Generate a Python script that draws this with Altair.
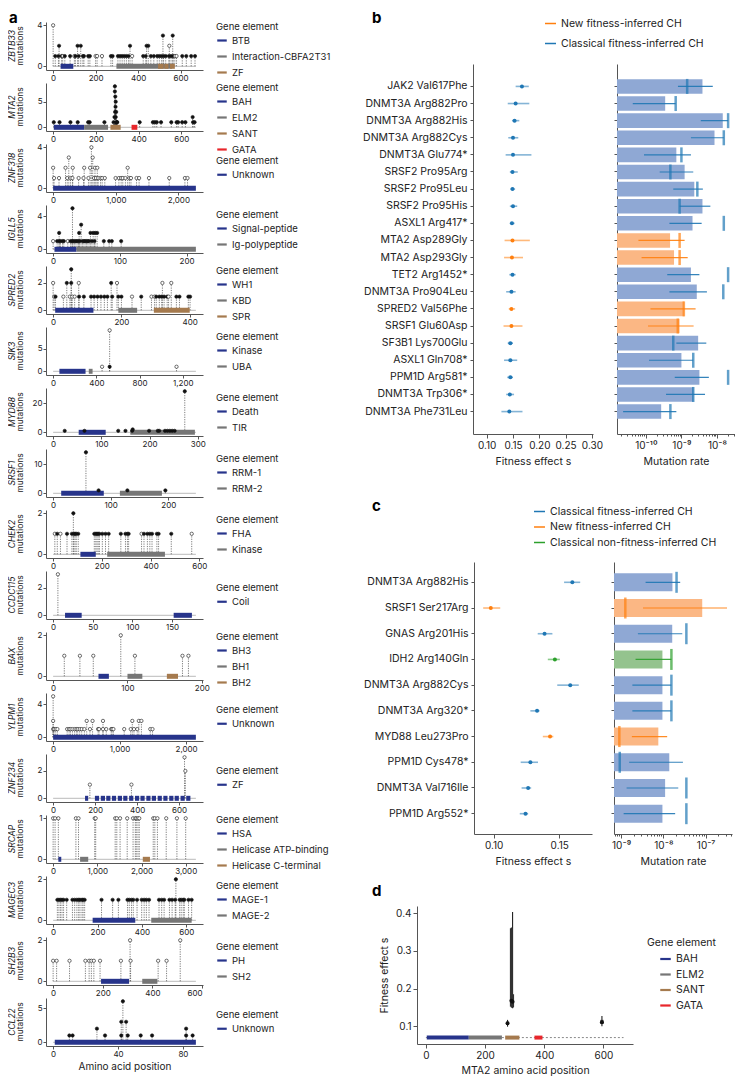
import altair as alt
import pandas as pd

FONT = "Inter"
NAVY, GREY, BROWN, RED = "#27348b", "#767676", "#a57a4e", "#e8262b"
ELEM_COLORS = [NAVY, GREY, BROWN, RED]
BLUE, ORANGE, GREEN = "#1f77b4", "#ff7f0e", "#2ca02c"
PALE_BLUE, PALE_ORANGE, PALE_GREEN = "#8fa8d4", "#fbb784", "#94c38e"

# ---------------- panel a : lollipop data (pos, mutations, filled) ----------------
ZBTB33_LEN = 672
ZBTB33_XT = [0, 100, 200, 300, 400, 500, 600, 700]
ZBTB33_YT = [0, 2, 4]
ZBTB33_MUT = [(0, 4, 0), (10, 1, 1), (25, 1, 1), (28, 2, 1), (40, 1, 1), (45, 1, 0), (55, 1, 1), (80, 1, 1),
              (100, 1, 0), (105, 1, 1), (115, 2, 1), (120, 1, 1), (130, 2, 1), (140, 1, 1), (145, 1, 1),
              (165, 1, 1), (173, 1, 1), (200, 1, 0), (207, 1, 0), (230, 1, 0), (272, 1, 1), (280, 1, 1),
              (305, 1, 1), (315, 1, 1), (325, 1, 1), (335, 1, 1), (345, 1, 1), (355, 1, 1), (362, 2, 1),
              (372, 1, 0), (424, 1, 1), (436, 1, 1), (440, 2, 1), (448, 2, 1), (460, 1, 1), (474, 1, 1),
              (490, 1, 1), (500, 1, 1), (510, 1, 1), (517, 3, 1), (520, 1, 1), (530, 1, 1), (545, 1, 1),
              (547, 2, 0), (555, 1, 1), (563, 3, 1), (565, 1, 1), (573, 1, 0), (581, 1, 0), (608, 1, 1),
              (627, 1, 1), (650, 1, 1), (668, 1, 1)]
ZBTB33_DOM = [("BTB", 35, 95), ("Interaction-CBFA2T31", 298, 560), ("ZF", 494, 520), ("ZF", 524, 543),
              ("ZF", 550, 573)]

MTA2_LEN = 668
MTA2_XT = [0, 100, 200, 300, 400, 500, 600, 700]
MTA2_YT = [0, 5]
MTA2_MUT = [(3, 1, 1), (30, 1, 1), (81, 1, 1), (115, 1, 1), (164, 1, 1), (171, 1, 1), (240, 1, 1), (283, 1, 1),
            (287, 2, 1), (289, 8, 1), (289, 7, 1), (290, 3, 1), (291, 6, 1), (292, 4, 1), (293, 5, 1),
            (293, 2, 1), (295, 3, 1), (296, 1, 1), (298, 1, 1), (300, 1, 1), (405, 1, 1), (467, 1, 1),
            (476, 1, 1), (485, 1, 1), (505, 1, 1), (553, 1, 1), (578, 1, 1), (585, 1, 1), (604, 1, 1),
            (619, 1, 1), (653, 2, 1), (655, 1, 1), (662, 1, 1)]
MTA2_DOM = [("BAH", 3, 145), ("ELM2", 145, 257), ("SANT", 268, 316), ("GATA", 367, 394)]

ZNF318_LEN = 2279
ZNF318_XT = [0, 500, 1000, 1500, 2000]
ZNF318_YT = [0, 2, 4]
ZNF318_MUT = [(0, 2, 0), (15, 1, 0), (94, 1, 0), (198, 2, 0), (225, 1, 0), (250, 3, 0), (277, 1, 0), (308, 1, 0),
              (313, 2, 0), (407, 1, 0), (485, 1, 0), (496, 2, 0), (564, 1, 0), (590, 2, 0), (611, 4, 0),
              (632, 3, 0), (653, 1, 0), (668, 2, 0), (684, 1, 0), (705, 2, 0), (720, 1, 0), (757, 1, 0),
              (783, 1, 0), (825, 1, 0), (997, 1, 0), (1050, 1, 0), (1086, 1, 0), (1112, 1, 0), (1154, 1, 0),
              (1190, 2, 0), (1217, 1, 0), (1243, 1, 0), (1332, 1, 0), (1373, 1, 0), (1530, 1, 0),
              (1854, 1, 0), (2104, 1, 0), (2146, 1, 0)]
ZNF318_DOM = [("Unknown", 0, 2279)]

IGLL5_LEN = 214
IGLL5_XT = [0, 50, 100, 150, 200]
IGLL5_YT = [0, 2, 4]
IGLL5_MUT = [(0, 1, 0), (6, 1, 1), (9, 2, 1), (9, 1, 1), (11, 1, 1), (14, 1, 1), (16, 1, 1), (22, 1, 0),
             (26, 1, 1), (28, 1, 1), (29, 5, 1), (30, 1, 1), (32, 1, 1), (34, 1, 1), (36, 1, 1), (38, 1, 1),
             (39, 2, 1), (40, 1, 1), (42, 3, 1), (44, 1, 1), (46, 1, 1), (48, 1, 1), (50, 1, 1), (52, 1, 1),
             (54, 1, 1), (56, 2, 1), (58, 1, 1), (60, 2, 1), (62, 1, 1), (63, 2, 1), (66, 2, 1), (76, 1, 1),
             (84, 1, 1), (88, 1, 1), (102, 1, 1)]
IGLL5_DOM = [("Signal-peptide", 2, 35), ("Ig-polypeptide", 35, 214)]

SPRED2_LEN = 418
SPRED2_XT = [0, 100, 200, 300, 400]
SPRED2_YT = [0, 2]
SPRED2_MUT = [(0, 2, 0), (3, 1, 0), (7, 1, 1), (30, 1, 0), (40, 2, 1), (49, 1, 0), (53, 3, 1), (53, 2, 1),
              (56, 1, 0), (63, 1, 0), (75, 2, 0), (76, 1, 1), (90, 1, 1), (111, 1, 1), (120, 1, 1), (130, 1, 1),
              (140, 1, 1), (150, 1, 1), (159, 1, 1), (170, 2, 1), (173, 1, 1), (187, 2, 0), (191, 1, 1),
              (200, 1, 1), (231, 1, 0), (258, 1, 1), (288, 1, 0), (297, 1, 0), (302, 1, 1), (311, 1, 1),
              (318, 1, 1), (320, 2, 0), (325, 1, 1), (334, 1, 1), (338, 1, 0), (346, 2, 0), (361, 1, 1),
              (370, 1, 1), (396, 1, 1), (401, 1, 1)]
SPRED2_DOM = [("WH1", 6, 118), ("KBD", 191, 246), ("SPR", 295, 400)]

SIK3_LEN = 1321
SIK3_XT = [0, 200, 400, 600, 800, 1000, 1200]
SIK3_YT = [0, 5]
SIK3_MUT = [(453, 1, 0), (523, 9, 0), (523, 1, 1), (1142, 1, 0)]
SIK3_DOM = [("Kinase", 58, 300), ("UBA", 330, 365)]

MYD88_LEN = 296
MYD88_XT = [0, 50, 100, 150, 200, 250, 300]
MYD88_YT = [0, 20]
MYD88_MUT = [(24, 1, 1), (65, 1, 1), (135, 1, 1), (150, 1, 1), (164, 1, 1), (165, 2, 1), (199, 1, 1),
             (217, 1, 1), (220, 1, 1), (232, 1, 1), (237, 1, 1), (242, 1, 1), (247, 1, 1), (252, 1, 1),
             (273, 28, 1)]
MYD88_DOM = [("Death", 53, 109), ("TIR", 160, 294)]

SRSF1_LEN = 248
SRSF1_XT = [0, 50, 100, 150, 200, 250]
SRSF1_YT = [0, 10]
SRSF1_MUT = [(57, 14, 1), (79, 1, 1), (129, 1, 1), (195, 1, 1)]
SRSF1_DOM = [("RRM-1", 14, 88), ("RRM-2", 116, 189)]

CHEK2_LEN = 586
CHEK2_XT = [0, 100, 200, 300, 400, 500, 600]
CHEK2_YT = [0, 1, 2]
CHEK2_MUT = [(7, 1, 0), (17, 1, 1), (30, 1, 0), (57, 1, 1), (77, 1, 1), (83, 2, 1), (85, 1, 1), (90, 1, 1),
             (95, 1, 1), (103, 1, 1), (169, 1, 1), (175, 1, 1), (180, 1, 1), (185, 1, 1), (190, 1, 1),
             (202, 1, 1), (215, 1, 1), (228, 1, 1), (278, 1, 1), (297, 1, 1), (305, 1, 1), (310, 1, 1),
             (363, 1, 0), (373, 1, 1), (387, 1, 1), (397, 1, 1), (406, 1, 1), (426, 1, 1), (433, 1, 1),
             (485, 1, 1), (569, 1, 0)]
CHEK2_DOM = [("FHA", 112, 175), ("Kinase", 222, 459)]

CCDC115_LEN = 180
CCDC115_XT = [0, 25, 50, 75, 100, 125, 150, 175]
CCDC115_YT = [0, 2]
CCDC115_MUT = [(6, 3, 0)]
CCDC115_DOM = [("Coil", 15, 36), ("Coil", 152, 175)]

BAX_LEN = 192
BAX_XT = [0, 50, 100, 150, 200]
BAX_YT = [0, 1, 2]
BAX_MUT = [(15, 1, 0), (36, 1, 0), (54, 1, 0), (91, 2, 0), (110, 1, 0), (174, 1, 0), (182, 1, 0)]
BAX_DOM = [("BH3", 61, 75), ("BH1", 100, 120), ("BH2", 153, 168)]

YLPM1_LEN = 2147
YLPM1_XT = [0, 500, 1000, 1500, 2000]
YLPM1_YT = [0, 2, 4]
YLPM1_MUT = [(0, 5, 0), (0, 2, 0), (0, 1, 0), (15, 1, 0), (39, 1, 0), (64, 1, 0), (211, 1, 0), (240, 1, 0),
             (260, 1, 0), (290, 1, 0), (323, 1, 0), (350, 1, 0), (370, 1, 0), (400, 1, 0), (430, 1, 0),
             (470, 1, 0), (505, 2, 0), (554, 1, 0), (593, 2, 0), (676, 1, 0), (691, 1, 0), (750, 2, 0),
             (750, 1, 0), (799, 1, 0), (873, 1, 0), (887, 1, 0), (907, 1, 0), (1069, 1, 0), (1167, 1, 0),
             (1191, 2, 0), (1216, 1, 0), (1265, 1, 0), (1289, 2, 0), (1328, 2, 0), (1461, 1, 0), (1495, 1, 0)]
YLPM1_DOM = [("Unknown", 0, 2147)]

ZNF234_LEN = 680
ZNF234_XT = [0, 100, 200, 300, 400, 500, 600, 700]
ZNF234_YT = [0, 2]
ZNF234_MUT = [(175, 1, 0), (373, 1, 0), (626, 3, 0), (630, 2, 0)]
ZNF234_DOM = [("ZF", 152, 167), ("ZF", 199, 219), ("ZF", 227, 247), ("ZF", 253, 273), ("ZF", 280, 300),
              ("ZF", 308, 328), ("ZF", 334, 354), ("ZF", 362, 382), ("ZF", 390, 410), ("ZF", 416, 436),
              ("ZF", 444, 464), ("ZF", 470, 490), ("ZF", 498, 518), ("ZF", 525, 545), ("ZF", 553, 573),
              ("ZF", 579, 599), ("ZF", 607, 627), ("ZF", 634, 654)]

SRCAP_LEN = 3230
SRCAP_XT = [0, 500, 1000, 1500, 2000, 2500, 3000]
SRCAP_YT = [0, 0.5, 1]
SRCAP_POS = [0, 44, 118, 515, 574, 941, 963, 1404, 1441, 1515, 1676, 1809, 1860, 1882, 1919, 1949, 2265,
             2301, 2360, 2559, 2801, 3000]
SRCAP_MUT = [(p, 1, 0) for p in SRCAP_POS]
SRCAP_DOM = [("HSA", 118, 184), ("Helicase ATP-binding", 610, 794), ("Helicase C-terminal", 2029, 2191)]

MAGEC3_LEN = 643
MAGEC3_XT = [0, 100, 200, 300, 400, 500, 600]
MAGEC3_YT = [0, 1, 2]
MAGEC3_POS = [19, 26, 33, 40, 47, 61, 87, 97, 107, 115, 121, 130, 135, 142, 218, 268, 294, 335, 343, 353,
              361, 378, 399, 410, 420, 432, 477, 489, 500, 524, 536, 550, 570, 577, 586, 591, 610, 624]
MAGEC3_MUT = [(p, 1, 1) for p in MAGEC3_POS] + [(553, 2, 1)]
MAGEC3_DOM = [("MAGE-1", 178, 370), ("MAGE-2", 442, 624)]

SH2B3_LEN = 575
SH2B3_XT = [0, 100, 200, 300, 400, 500, 600]
SH2B3_YT = [0, 1, 2]
SH2B3_MUT = [(0, 1, 0), (14, 1, 0), (66, 1, 0), (130, 1, 0), (145, 1, 0), (154, 1, 0), (164, 1, 0),
             (189, 1, 0), (273, 1, 0), (310, 2, 0), (312, 1, 0), (423, 1, 0), (457, 1, 0), (512, 2, 0)]
SH2B3_DOM = [("PH", 193, 306), ("SH2", 359, 420)]

CCL22_LEN = 88
CCL22_XT = [0, 20, 40, 60, 80]
CCL22_YT = [0, 2.5, 5]
CCL22_MUT = [(10, 1, 1), (12, 1, 1), (27, 2, 1), (32, 1, 1), (42, 3, 1), (42, 1, 1), (43, 6, 1), (45, 3, 1),
             (46, 1, 1), (54, 1, 1), (61, 1, 1), (82, 2, 1), (82, 1, 1), (86, 1, 1)]
CCL22_DOM = [("Unknown", 1, 88)]

GENES = [
    ("ZBTB33", ZBTB33_LEN, ZBTB33_MUT, ZBTB33_DOM, ZBTB33_XT, ZBTB33_YT),
    ("MTA2", MTA2_LEN, MTA2_MUT, MTA2_DOM, MTA2_XT, MTA2_YT),
    ("ZNF318", ZNF318_LEN, ZNF318_MUT, ZNF318_DOM, ZNF318_XT, ZNF318_YT),
    ("IGLL5", IGLL5_LEN, IGLL5_MUT, IGLL5_DOM, IGLL5_XT, IGLL5_YT),
    ("SPRED2", SPRED2_LEN, SPRED2_MUT, SPRED2_DOM, SPRED2_XT, SPRED2_YT),
    ("SIK3", SIK3_LEN, SIK3_MUT, SIK3_DOM, SIK3_XT, SIK3_YT),
    ("MYD88", MYD88_LEN, MYD88_MUT, MYD88_DOM, MYD88_XT, MYD88_YT),
    ("SRSF1", SRSF1_LEN, SRSF1_MUT, SRSF1_DOM, SRSF1_XT, SRSF1_YT),
    ("CHEK2", CHEK2_LEN, CHEK2_MUT, CHEK2_DOM, CHEK2_XT, CHEK2_YT),
    ("CCDC115", CCDC115_LEN, CCDC115_MUT, CCDC115_DOM, CCDC115_XT, CCDC115_YT),
    ("BAX", BAX_LEN, BAX_MUT, BAX_DOM, BAX_XT, BAX_YT),
    ("YLPM1", YLPM1_LEN, YLPM1_MUT, YLPM1_DOM, YLPM1_XT, YLPM1_YT),
    ("ZNF234", ZNF234_LEN, ZNF234_MUT, ZNF234_DOM, ZNF234_XT, ZNF234_YT),
    ("SRCAP", SRCAP_LEN, SRCAP_MUT, SRCAP_DOM, SRCAP_XT, SRCAP_YT),
    ("MAGEC3", MAGEC3_LEN, MAGEC3_MUT, MAGEC3_DOM, MAGEC3_XT, MAGEC3_YT),
    ("SH2B3", SH2B3_LEN, SH2B3_MUT, SH2B3_DOM, SH2B3_XT, SH2B3_YT),
    ("CCL22", CCL22_LEN, CCL22_MUT, CCL22_DOM, CCL22_XT, CCL22_YT),
]

# ---------------- panel b ----------------
NEW, CLASSIC, NONFIT = "New fitness-inferred CH", "Classical fitness-inferred CH", "Classical non-fitness-inferred CH"
B_VARIANTS = ["JAK2 Val617Phe", "DNMT3A Arg882Pro", "DNMT3A Arg882His", "DNMT3A Arg882Cys", "DNMT3A Glu774*",
              "SRSF2 Pro95Arg", "SRSF2 Pro95Leu", "SRSF2 Pro95His", "ASXL1 Arg417*", "MTA2 Asp289Gly",
              "MTA2 Asp293Gly", "TET2 Arg1452*", "DNMT3A Pro904Leu", "SPRED2 Val56Phe", "SRSF1 Glu60Asp",
              "SF3B1 Lys700Glu", "ASXL1 Gln708*", "PPM1D Arg581*", "DNMT3A Trp306*", "DNMT3A Phe731Leu"]
B_GROUP = [CLASSIC] * 9 + [NEW, NEW, CLASSIC, CLASSIC, NEW, NEW, CLASSIC, CLASSIC, CLASSIC, CLASSIC, CLASSIC]
B_S = [0.167, 0.155, 0.153, 0.150, 0.150, 0.149, 0.149, 0.150, 0.148, 0.149, 0.148, 0.149, 0.147, 0.147,
       0.147, 0.145, 0.145, 0.145, 0.144, 0.143]
B_S_LO = [0.155, 0.140, 0.148, 0.141, 0.136, 0.144, 0.145, 0.144, 0.144, 0.134, 0.133, 0.143, 0.137, 0.142,
          0.132, 0.140, 0.133, 0.139, 0.137, 0.128]
B_S_HI = [0.180, 0.181, 0.162, 0.160, 0.185, 0.159, 0.154, 0.158, 0.153, 0.182, 0.169, 0.155, 0.155, 0.154,
          0.168, 0.150, 0.158, 0.150, 0.152, 0.168]
B_MU = [3.9e-9, 3.5e-10, 1.45e-8, 8.5e-9, 7.2e-10, 1.23e-9, 2.3e-9, 3.9e-9, 2.05e-9, 4.8e-10, 6.2e-10,
        1.85e-9, 2.7e-9, 1.17e-9, 8.9e-10, 2.95e-9, 1.0e-9, 3.2e-9, 2.2e-9, 2.7e-10]
B_MU_LO = [8.0e-10, 4.3e-11, 3.5e-9, 1.85e-9, 8.9e-11, 2.45e-10, 5.9e-10, 8.9e-10, 4.6e-10, 6.2e-11, 7.6e-11,
           4.0e-10, 4.6e-10, 1.35e-10, 1.15e-10, 7.2e-10, 1.23e-10, 6.5e-10, 3.7e-10, 2.3e-11]
B_MU_HI = [7.6e-9, 6.9e-10, 2.05e-8, 1.55e-8, 1.85e-9, 2.15e-9, 4.0e-9, 6.5e-9, 3.7e-9, 1.23e-9, 1.5e-9,
           3.2e-9, 5.2e-9, 2.5e-9, 2.2e-9, 5.0e-9, 2.15e-9, 5.9e-9, 4.6e-9, 7.2e-10]
B_MU_OBS = [1.45e-9, 6.9e-10, 2.05e-8, 1.55e-8, 1.0e-9, 4.9e-10, 2.8e-9, 8.9e-10, 1.55e-8, 8.9e-10, 8.9e-10,
            2.05e-8, 1.5e-8, 1.17e-9, 7.9e-10, 5.9e-10, 2.15e-9, 2.05e-8, 2.15e-9, 4.9e-10]

# ---------------- panel c ----------------
C_VARIANTS = ["DNMT3A Arg882His", "SRSF1 Ser217Arg", "GNAS Arg201His", "IDH2 Arg140Gln", "DNMT3A Arg882Cys",
              "DNMT3A Arg320*", "MYD88 Leu273Pro", "PPM1D Cys478*", "DNMT3A Val716Ile", "PPM1D Arg552*"]
C_GROUP = [CLASSIC, NEW, CLASSIC, NONFIT, CLASSIC, CLASSIC, NEW, CLASSIC, CLASSIC, CLASSIC]
C_S = [0.160, 0.0978, 0.1388, 0.1467, 0.1584, 0.1331, 0.1430, 0.1280, 0.1263, 0.1243]
C_S_LO = [0.1537, 0.0920, 0.1336, 0.1413, 0.1485, 0.1280, 0.1375, 0.1206, 0.1213, 0.1199]
C_S_HI = [0.1660, 0.1050, 0.1448, 0.1505, 0.1649, 0.1350, 0.1455, 0.1338, 0.1286, 0.1263]
C_MU = [1.64e-8, 8.3e-8, 1.62e-8, 9.5e-9, 9.5e-9, 9.5e-9, 7.6e-9, 1.38e-8, 1.1e-8, 9.5e-9]
C_MU_LO = [3.8e-9, 3.3e-9, 2.5e-9, 2.2e-9, 1.85e-9, 1.85e-9, 1.8e-9, 1.55e-9, 1.35e-9, 1.15e-9]
C_MU_HI = [2.5e-8, 3.2e-7, 2.8e-8, 1.55e-8, 1.55e-8, 1.55e-8, 1.23e-8, 2.9e-8, 2.25e-8, 1.9e-8]
C_MU_OBS = [2.05e-8, 1.26e-9, 3.5e-8, 1.55e-8, 1.55e-8, 1.55e-8, 9.1e-10, 9.3e-10, 3.5e-8, 3.5e-8]

# ---------------- panel d ----------------
D_POS = [276, 289, 293, 595]
D_S = [0.108, 0.168, 0.165, 0.111]
D_LO = [0.099, 0.150, 0.148, 0.100]
D_HI = [0.117, 0.362, 0.403, 0.127]
D_INNER_LO = [0.104, 0.152, 0.150, 0.106]
D_INNER_HI = [0.112, 0.360, 0.185, 0.117]
D_TRACK = 0.07

# ---------------- layout (pixels) ----------------
W_A, H_A, GAP_A = 157, 48, 13
LEFT_ANCHOR = 150      # invisible extent right of the lollipop plots (covers legends)
RIGHT_ANCHOR = 55      # invisible extent left of the right column origin (covers labels)
COL_GAP = 9
TOP_RIGHT = 39         # b plot top below first lollipop plot top
B_H, C_H, D_H = 370, 272, 138
B_ROW_H, C_ROW_H = 495, 344


def letter_mark(t, dx, dy):
    return alt.Chart(pd.DataFrame({"t": [t]})).mark_text(
        fontSize=15, fontWeight="bold", align="left", baseline="top", font=FONT).encode(
        text="t:N", x=alt.value(dx), y=alt.value(dy))


def anchor(x1, x2, y=0):
    return alt.Chart(pd.DataFrame({"v": [0]})).mark_rule(strokeWidth=0).encode(
        x=alt.value(x1), x2=alt.value(x2), y=alt.value(y))


def side_title(text, dx, italic):
    return alt.Chart(pd.DataFrame({"t": [text]})).mark_text(
        angle=270, fontSize=8.5, fontStyle="italic" if italic else "normal", align="center",
        baseline="middle", font=FONT, color="#222222").encode(
        text="t:N", x=alt.value(dx), y=alt.value(H_A / 2))


def lollipop(name, L, muts, doms, xt, yt, first=False, last=False):
    mdf = pd.DataFrame(muts, columns=["pos", "n", "filled"])
    mdf["kind"] = ["filled" if f else "open" for f in mdf["filled"]]
    mdf["zero"] = 0.0
    ddf = pd.DataFrame(doms, columns=["element", "start", "end"])
    ddf["zero"] = 0.0
    elems = list(dict.fromkeys(ddf["element"]))
    bdf = pd.DataFrame({"start": [0], "end": [L], "zero": [0.0]})
    M = float(mdf["n"].max())
    xs = alt.Scale(domain=[-0.05 * L, 1.05 * L], nice=False, zero=False)
    ys = alt.Scale(domain=[-0.09 * M, 1.08 * M], nice=False, zero=False)
    xax = alt.Axis(values=xt, format=",d", grid=False, labelFontSize=8, tickSize=3, labelPadding=1,
                   title="Amino acid position" if last else None, titleFontSize=10, titlePadding=3)
    yax = alt.Axis(values=yt, format="~r", grid=False, labelFontSize=8, tickSize=3, labelPadding=1, title=None)
    n_el = len(elems)
    leg_h = 13 + 14.5 * n_el
    base = alt.Chart(bdf).mark_rule(color="#c8c8c8", strokeWidth=1.2).encode(
        x=alt.X("start:Q", scale=xs, axis=xax), x2="end:Q", y=alt.Y("zero:Q", scale=ys, axis=yax))
    stems = alt.Chart(mdf).mark_rule(color="#444444", strokeWidth=0.7, strokeDash=[1.2, 1.2]).encode(
        x="pos:Q", y="zero:Q", y2="n:Q")
    dom = alt.Chart(ddf).mark_rule(strokeWidth=5, strokeCap="butt").encode(
        x="start:Q", x2="end:Q", y="zero:Q",
        color=alt.Color("element:N", scale=alt.Scale(domain=elems, range=ELEM_COLORS[:n_el]),
                        legend=alt.Legend(title="\u00a0" * 6 + "Gene element", orient="none",
                                          legendX=W_A + 13, legendY=max(H_A / 2 + 2 - leg_h / 2, 0),
                                          symbolType="stroke", symbolStrokeWidth=2.2, symbolSize=90,
                                          labelFontSize=9.5, titleFontSize=9.5, rowPadding=5,
                                          titlePadding=3, labelLimit=200)))
    pts = alt.Chart(mdf).mark_point(shape="circle", size=11, filled=True, stroke="#111111",
                                    strokeWidth=0.6, opacity=1).encode(
        x="pos:Q", y="n:Q",
        fill=alt.Fill("kind:N", scale=alt.Scale(domain=["filled", "open"], range=["#111111", "#ffffff"]),
                      legend=None))
    layers = [base, stems, dom, pts, side_title(name, -34, True), side_title("mutations", -26, False)]
    if first:
        layers.append(letter_mark("a", -37, -11))
        layers.append(anchor(W_A, W_A + LEFT_ANCHOR))
        layers.append(anchor(-30, -20, -14))
    return alt.layer(*layers).properties(width=W_A, height=H_A)


def legend_holder(order, colors, lx, ly, rowpad):
    return alt.Chart(pd.DataFrame({"cat": order})).mark_rule(strokeWidth=0).encode(
        x=alt.value(0), x2=alt.value(1), y=alt.value(0),
        stroke=alt.Stroke("cat:N", scale=alt.Scale(domain=order, range=colors),
                          legend=alt.Legend(title=None, orient="none", legendX=lx, legendY=ly,
                                            symbolType="stroke", symbolStrokeWidth=1.5, symbolSize=120,
                                            symbolOpacity=1, labelFontSize=10.5, rowPadding=rowpad,
                                            labelLimit=300)))


def spacer(w, h, extras):
    base = alt.Chart(pd.DataFrame({"v": [0]})).mark_point(opacity=0).encode(x=alt.value(0), y=alt.value(0))
    return alt.layer(base, *extras).properties(width=w, height=h)


panels = [lollipop(*g, first=(i == 0), last=(i == len(GENES) - 1)) for i, g in enumerate(GENES)]
left = alt.vconcat(*panels, spacing=GAP_A, bounds="flush").resolve_scale(
    x="independent", y="independent", color="independent", fill="independent")


def superscript_expr():
    e = "round(log(datum.value)/LN10)"
    return (f"{e} == -11 ? '10⁻¹¹' : {e} == -10 ? '10⁻¹⁰' : {e} == -9 ? '10⁻⁹' : "
            f"{e} == -8 ? '10⁻⁸' : '10⁻⁷'")


def pair(variants, groups, s, slo, shi, mu, mulo, muhi, muobs, order, strong, pale,
         s_dom, s_ticks, mu_dom, mu_ticks, height, pin, pout, fit_w, rate_w, tick_size, gap, lead):
    df = pd.DataFrame({"variant": variants, "group": groups, "g_fill": groups, "g_tick": groups,
                       "s": s, "s_lo": slo, "s_hi": shi,
                       "mu": mu, "mu_lo": mulo, "mu_hi": muhi, "mu_obs": muobs})
    df["mu_base"] = mu_dom[0]
    yscale = alt.Scale(paddingInner=pin, paddingOuter=pout)
    yfit = alt.Y("variant:N", sort=variants, scale=yscale,
                 axis=alt.Axis(title=None, labelFontSize=10.5, tickSize=3, labelPadding=3, labelLimit=200))
    yrate = alt.Y("variant:N", sort=variants, scale=yscale,
                  axis=alt.Axis(title=None, labels=False, tickSize=3))
    strong_scale = alt.Scale(domain=order, range=strong)
    sx = alt.Scale(domain=s_dom, nice=False, zero=False)
    sax = alt.Axis(values=s_ticks, format=".2f", grid=False, labelFontSize=10, tickSize=4,
                   title="Fitness effect s", titleFontSize=10.5, titlePadding=6)
    base = alt.Chart(df)
    err = base.mark_rule(strokeWidth=1.6, opacity=0.55).encode(
        x=alt.X("s_lo:Q", scale=sx, axis=sax), x2="s_hi:Q", y=yfit,
        color=alt.Color("group:N", scale=strong_scale, legend=None))
    dots = base.mark_circle(size=16, opacity=1).encode(
        x=alt.X("s:Q", scale=sx, axis=sax), y=yfit,
        color=alt.Color("group:N", scale=strong_scale, legend=None))
    fit = alt.layer(err, dots).properties(width=fit_w, height=height)

    mx = alt.Scale(type="log", domain=mu_dom, nice=False)
    minor = [k * 10.0 ** e for e in range(-12, -5) for k in range(2, 10)
             if mu_dom[0] <= k * 10.0 ** e <= mu_dom[1]]
    major_ax = alt.Axis(values=mu_ticks, labelExpr=superscript_expr(), grid=False, labelFontSize=10,
                        tickSize=4, title="Mutation rate", titleFontSize=10.5, titlePadding=6, orient="bottom")
    minor_ax = alt.Axis(values=minor, labels=False, grid=False, tickSize=2, domain=False, title=None,
                        orient="bottom")
    bars = base.mark_bar().encode(
        x=alt.X("mu:Q", scale=mx, axis=major_ax), x2="mu_base:Q", y=yrate,
        fill=alt.Fill("g_fill:N", scale=alt.Scale(domain=order, range=pale), legend=None))
    merr = base.mark_rule(strokeWidth=1.2, opacity=0.9).encode(
        x=alt.X("mu_lo:Q", scale=mx, axis=minor_ax), x2="mu_hi:Q", y=yrate,
        stroke=alt.Stroke("group:N", scale=strong_scale, legend=None))
    mtick = base.mark_tick(thickness=2.5, size=tick_size).encode(
        x=alt.X("mu_obs:Q", scale=mx, axis=None), y=yrate,
        color=alt.Color("g_tick:N", scale=strong_scale, legend=None))
    rate = alt.layer(bars, merr, mtick).resolve_axis(x="independent").properties(width=rate_w, height=height)
    return alt.hconcat(lead, fit, rate, spacing=gap, bounds="flush").resolve_scale(
        y="independent", x="independent", color="independent", fill="independent", stroke="independent")


B_ORDER = [NEW, CLASSIC]
C_ORDER = [CLASSIC, NEW, NONFIT]

# row 0: letter b, legend of b, left anchor of the right column
row0 = spacer(10, TOP_RIGHT, [letter_mark("b", -45, -11), anchor(-RIGHT_ANCHOR, 0),
                              legend_holder(B_ORDER, [ORANGE, BLUE], 127, -5, 8)])
# lead spacer of row b also carries letter c and the legend of c (placed below b)
lead_b = spacer(32, B_ROW_H, [letter_mark("c", -45, 435),
                              legend_holder(C_ORDER, [BLUE, ORANGE, GREEN], 116, 441, 3.5)])
lead_c = spacer(35, C_ROW_H, [letter_mark("d", -45, 322)])

panel_b = pair(B_VARIANTS, B_GROUP, B_S, B_S_LO, B_S_HI, B_MU, B_MU_LO, B_MU_HI, B_MU_OBS,
               B_ORDER, [ORANGE, BLUE], [PALE_ORANGE, PALE_BLUE],
               [0.074, 0.302], [0.10, 0.15, 0.20, 0.25, 0.30], [1.55e-11, 3.2e-8], [1e-10, 1e-9, 1e-8],
               B_H, 0.15, 0.885, 120, 118, 15, 24, lead_b)

panel_c = pair(C_VARIANTS, C_GROUP, C_S, C_S_LO, C_S_HI, C_MU, C_MU_LO, C_MU_HI, C_MU_OBS,
               C_ORDER, [BLUE, ORANGE, GREEN], [PALE_BLUE, PALE_ORANGE, PALE_GREEN],
               [0.085, 0.175], [0.10, 0.15], [6.8e-10, 4.2e-7], [1e-9, 1e-8, 1e-7],
               C_H, 0.3, 0.44, 118, 118, 21, 22, lead_c)

# panel d
ddom = pd.DataFrame(MTA2_DOM, columns=["element", "start", "end"])
ddom["track"] = D_TRACK
d_elems = list(dict.fromkeys(ddom["element"]))
dbase = pd.DataFrame({"start": [0], "end": [MTA2_LEN], "track": [D_TRACK]})
dvar = pd.DataFrame({"pos": D_POS, "s": D_S, "lo": D_LO, "hi": D_HI, "ilo": D_INNER_LO, "ihi": D_INNER_HI})
dx = alt.Scale(domain=[-30, 700], nice=False, zero=False)
dy = alt.Scale(domain=[0.053, 0.419], nice=False, zero=False)
dxax = alt.Axis(values=[0, 100, 200, 300, 400, 500, 600, 700], grid=False, labelFontSize=10, tickSize=4,
                title="MTA2 amino acid position", titleFontSize=10.5, titlePadding=5)
dyax = alt.Axis(values=[0.1, 0.2, 0.3, 0.4], format=".1f", grid=False, labelFontSize=10, tickSize=4,
                title="Fitness effect s", titleFontSize=10.5, titlePadding=6)
d_line = alt.Chart(dbase).mark_rule(color="#888888", strokeWidth=1, strokeDash=[2, 2]).encode(
    x=alt.X("start:Q", scale=dx, axis=dxax), x2="end:Q", y=alt.Y("track:Q", scale=dy, axis=dyax))
d_dom = alt.Chart(ddom).mark_rule(strokeWidth=4, strokeCap="butt").encode(
    x="start:Q", x2="end:Q", y="track:Q",
    color=alt.Color("element:N", scale=alt.Scale(domain=d_elems, range=ELEM_COLORS),
                    legend=alt.Legend(title="Gene element", orient="none", legendX=230, legendY=32,
                                      symbolType="stroke", symbolStrokeWidth=2.2, symbolSize=110,
                                      symbolOffset=12, labelFontSize=10.5, titleFontSize=10.5,
                                      rowPadding=3.5, titlePadding=4)))
d_whisk = alt.Chart(dvar).mark_rule(color="#222222", strokeWidth=1.1).encode(x="pos:Q", y="lo:Q", y2="hi:Q")
d_inner = alt.Chart(dvar).mark_rule(color="#333333", strokeWidth=3).encode(x="pos:Q", y="ilo:Q", y2="ihi:Q")
d_pts = alt.Chart(dvar).mark_circle(color="#111111", size=16, opacity=1).encode(x="pos:Q", y="s:Q")
panel_d = alt.layer(d_line, d_dom, d_whisk, d_inner, d_pts).properties(width=216, height=D_H)

right = alt.vconcat(row0, panel_b, panel_c, panel_d, spacing=0).resolve_scale(
    x="independent", y="independent", color="independent", fill="independent", stroke="independent")

chart = alt.hconcat(left, right, spacing=COL_GAP).resolve_scale(
    x="independent", y="independent", color="independent", fill="independent", stroke="independent"
).properties(padding=0).configure_view(stroke=None).configure_axis(
    labelFont=FONT, titleFont=FONT, labelColor="#222222", titleColor="#222222",
    domainColor="#555555", tickColor="#555555", titleFontWeight="normal"
).configure_legend(labelFont=FONT, titleFont=FONT, titleFontWeight="normal",
                   labelColor="#222222", titleColor="#222222"
).configure_text(font=FONT)

chart.save("out.html", embed_options={"renderer": "svg", "actions": False})
